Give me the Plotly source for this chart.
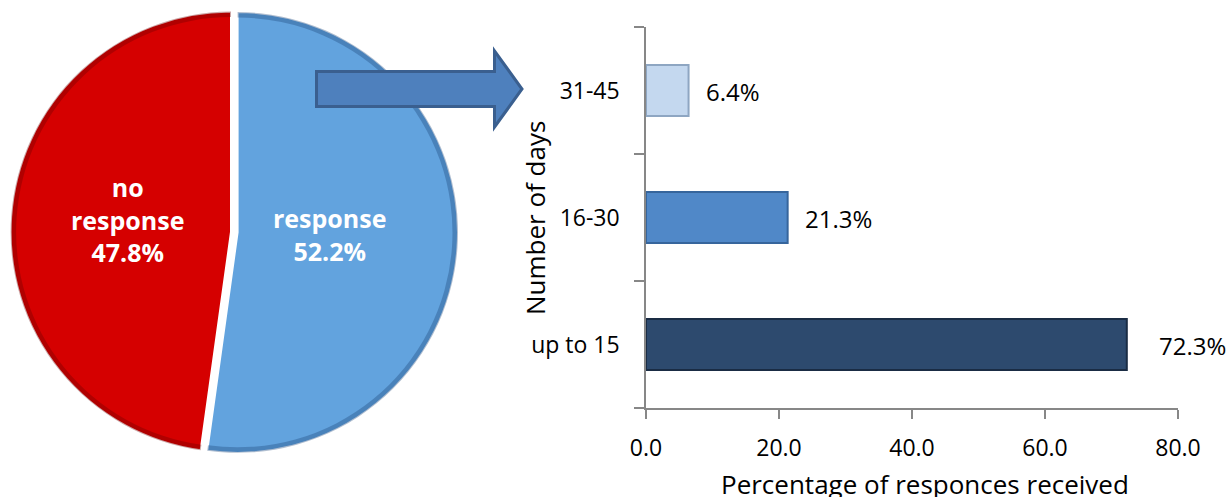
import plotly.graph_objects as go

# ---- data ----
pie_labels = ["response", "no response"]
pie_values = [52.2, 47.8]
pie_colors = ["#62a3de", "#d50000"]
pie_rim_colors = ["rgba(30,70,120,0.35)", "rgba(110,0,0,0.35)"]

day_categories = ["up to 15", "16-30", "31-45"]
day_values = [72.3, 21.3, 6.4]
bar_colors = ["#2d4a6e", "#5088c8", "#c4d8ef"]
bar_edges = ["#1a2c44", "#36659c", "#8ea6c2"]

x_ticks = [0, 20, 40, 60, 80]

W, H = 1228, 497
FONT = "Open Sans"

def px(x):
    return max(0.0, min(1.0, x / W))

def py(y):
    return max(0.0, min(1.0, (H - y) / H))

fig = go.Figure()

# ---- pie ----
cx, cy, half = 231, 232, 227
pie_domain = dict(x=[px(cx - half), px(cx + half)], y=[py(cy + half), py(cy - half)])
fig.add_trace(go.Pie(
    labels=pie_labels,
    values=pie_values,
    sort=False,
    direction="clockwise",
    rotation=0,
    pull=[0.03, 0],
    textinfo="none",
    hoverinfo="label+percent",
    marker=dict(colors=pie_colors, line=dict(color="white", width=2)),
    domain=pie_domain,
    showlegend=False,
))
# darker rim for the bevelled look
fig.add_trace(go.Pie(
    labels=pie_labels,
    values=pie_values,
    sort=False,
    direction="clockwise",
    rotation=0,
    pull=[0.03, 0],
    hole=0.975,
    textinfo="none",
    hoverinfo="skip",
    marker=dict(colors=pie_rim_colors, line=dict(width=0)),
    domain=pie_domain,
    showlegend=False,
))

# ---- bars ----
fig.add_trace(go.Bar(
    x=day_values,
    y=day_categories,
    orientation="h",
    marker=dict(color=bar_colors, line=dict(color=bar_edges, width=2)),
    xaxis="x",
    yaxis="y",
    showlegend=False,
    width=0.4,
))

label_shift = [30, 15, 15]
annotations = []
for cat, v, s in zip(day_categories, day_values, label_shift):
    annotations.append(dict(
        x=v, y=cat, xref="x", yref="y", text=f"{v}%", showarrow=False,
        xanchor="left", xshift=s, yshift=-1,
        font=dict(family=FONT, size=24, color="black"),
    ))

# pie labels
annotations.append(dict(
    x=px(127), y=py(219), xref="paper", yref="paper",
    text="<b>no<br>response<br>" + f"{pie_values[1]}%</b>",
    showarrow=False, font=dict(family=FONT, size=25, color="white"),
    xanchor="center", yanchor="middle",
))
annotations.append(dict(
    x=px(329), y=py(234), xref="paper", yref="paper",
    text="<b>response<br>" + f"{pie_values[0]}%</b>",
    showarrow=False, font=dict(family=FONT, size=25, color="white"),
    xanchor="center", yanchor="middle",
))

# axis titles
annotations.append(dict(
    x=px(535), y=py(218), xref="paper", yref="paper",
    text="Number of days", textangle=-90, showarrow=False,
    font=dict(family=FONT, size=26, color="black"),
    xanchor="center", yanchor="middle",
))
annotations.append(dict(
    x=px(925), y=py(484), xref="paper", yref="paper",
    text="Percentage of responces received", showarrow=False,
    font=dict(family=FONT, size=26, color="black"),
    xanchor="center", yanchor="middle",
))

# arrow shape
arrow_pts = [(316.5, 71.5), (494.5, 71.5), (494.5, 51), (522, 89), (494.5, 127),
             (494.5, 106.5), (316.5, 106.5)]
path = "M " + " L ".join(f"{px(x):.5f},{py(y):.5f}" for x, y in arrow_pts) + " Z"

fig.update_layout(
    template="none",
    width=W, height=H, autosize=False,
    margin=dict(l=0, r=0, t=0, b=0, pad=0),
    paper_bgcolor="white", plot_bgcolor="white",
    font=dict(family=FONT, size=23, color="black"),
    bargap=0.6,
    showlegend=False,
    xaxis=dict(
        domain=[px(646), px(1178)], automargin=False,
        range=[0, 80], tickvals=x_ticks, ticktext=[f"{t:.1f}" for t in x_ticks],
        showgrid=False, zeroline=False, showline=True, linecolor="#878787", linewidth=1.5,
        ticks="outside", ticklen=9, tickcolor="#878787", tickwidth=1.5,
        ticklabelstandoff=10, tickfont=dict(family=FONT, size=23, color="black"),
        anchor="y",
    ),
    yaxis=dict(
        domain=[py(408), py(27)], automargin=False,
        type="category", categoryorder="array", categoryarray=day_categories,
        range=[-0.5, 2.5],
        showgrid=False, zeroline=False, showline=True, linecolor="#878787", linewidth=1.5,
        ticks="outside", ticklen=10, tickcolor="#878787", tickwidth=1.5,
        tickson="boundaries", ticklabelstandoff=20,
        tickfont=dict(family=FONT, size=23, color="black"),
        anchor="x",
    ),
    annotations=annotations,
    shapes=[dict(type="path", path=path, xref="paper", yref="paper",
                 fillcolor="#4e80bd", line=dict(color="#3a5f8f", width=3))],
)

fig.write_html("out.html")
